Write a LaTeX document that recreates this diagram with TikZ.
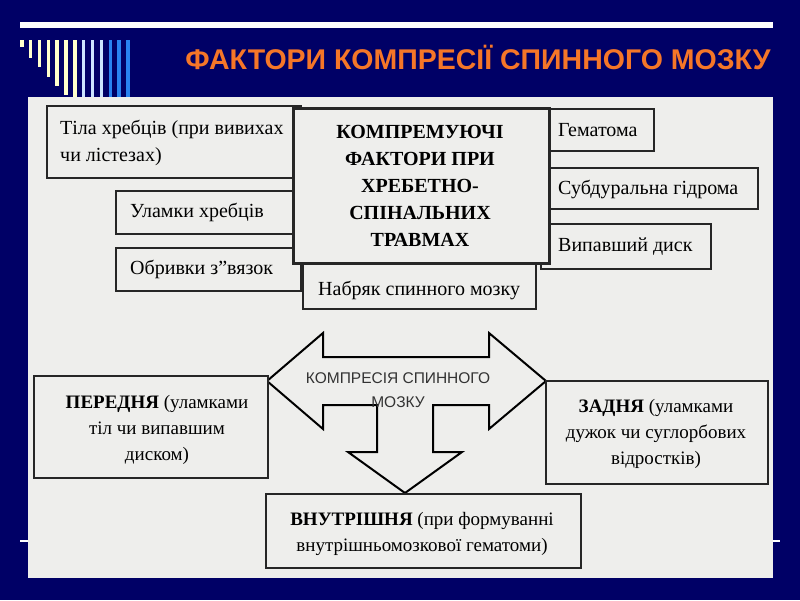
\documentclass[tikz,border=0pt]{standalone}
\usepackage{fontspec}
\setmainfont{Liberation Serif}
\setsansfont{Liberation Sans}
\definecolor{slidebg}{RGB}{0,0,102}
\definecolor{paper}{RGB}{238,238,236}
\definecolor{titleorange}{RGB}{245,118,40}
\definecolor{barcream}{RGB}{255,255,204}
\definecolor{barlight}{RGB}{204,228,255}
\definecolor{barblue}{RGB}{40,130,240}
\tikzset{
  box/.style={draw=black!85, fill=paper, line width=1.5pt, anchor=north west, inner sep=0pt},
  mainbox/.style={box, line width=2.8pt},
  boxtext/.style={font=\fontsize{20}{27}\selectfont, anchor=west, align=left, inner sep=0pt},
  lowtext/.style={font=\fontsize{19}{26}\selectfont, align=center, inner sep=0pt},
}
\begin{document}
\begin{tikzpicture}[x=1pt,y=-1pt]
  \fill[slidebg] (0,0) rectangle (800,600);
  \useasboundingbox (0,0) rectangle (800,600);

  % slide decoration
  \fill[white] (20,22) rectangle (773,28);
  \foreach \i/\bot/\col in {0/47/barcream,1/58/barcream,2/67/barcream,3/77/barcream,
      4/86/barcream,5/95/barcream,6/100/barcream,7/100/barlight,8/100/barlight,
      9/100/barlight,10/100/barblue,11/100/barblue,12/100/barblue}
    \fill[\col] ({20+\i*8.85},40) rectangle ({23.5+\i*8.85},\bot);
  \draw[white, line width=1.2pt] (20,541) -- (780,541);
  \fill[paper] (28,97) rectangle (773,578);
  \node[font=\fontsize{28.5}{30}\selectfont\sffamily\bfseries, text=titleorange] (title) at (478,57) {ФАКТОРИ КОМПРЕСІЇ СПИННОГО МОЗКУ};

  % upper part
  \node[box, minimum width=254, minimum height=72] (tila) at (46,105) {};
  \node[boxtext] (tilat) at (60,143) {Тіла хребців (при вивихах\\чи лістезах)};
  \node[box, minimum width=185, minimum height=43] (ulamky) at (115,190) {};
  \node[boxtext] (ulamkyt) at (130,212) {Уламки хребців};
  \node[box, minimum width=185, minimum height=43] (obryvky) at (115,247) {};
  \node[boxtext] (obryvkyt) at (130,269) {Обривки з”вязок};

  \node[box, minimum width=113, minimum height=42] (hematoma) at (540,108) {};
  \node[boxtext] (hematomat) at (558,130) {Гематома};
  \node[box, minimum width=217, minimum height=41] (hidroma) at (540,167) {};
  \node[boxtext] (hidromat) at (558,189) {Субдуральна гідрома};
  \node[box, minimum width=170, minimum height=45] (dysk) at (540,223) {};
  \node[boxtext] (dyskt) at (558,247) {Випавший диск};

  \node[box, minimum width=233, minimum height=58] (nabriak) at (302,250) {};
  \node[boxtext] (nabriakt) at (318,290) {Набряк спинного мозку};

  \node[mainbox, minimum width=256, minimum height=155] (faktory) at (292,107) {};
  \node[font=\fontsize{20}{27}\selectfont\bfseries, align=center, inner sep=0pt] (faktoryt) at (420,186)
    {КОМПРЕМУЮЧІ\\ФАКТОРИ ПРИ\\ХРЕБЕТНО-\\СПІНАЛЬНИХ\\ТРАВМАХ};

  % compression arrow
  \draw[fill=paper, line width=2pt, line join=miter] (267,381) -- (323,333) -- (323,357) -- (489,357)
    -- (489,333) -- (546,381) -- (489,429) -- (489,405) -- (433,405) -- (433,452) -- (462,452)
    -- (405,493) -- (348,452) -- (377,452) -- (377,405) -- (323,405) -- (323,429) -- cycle;
  \node[font=\fontsize{15.5}{24}\selectfont\sffamily, text=black!80, align=center, inner sep=0pt] (kompresia) at (398,390)
    {КОМПРЕСІЯ СПИННОГО\\МОЗКУ};

  % lower part
  \node[box, line width=1.8pt, minimum width=234, minimum height=102] (perednia) at (33,375) {};
  \node[lowtext] (peredniat) at (157,430) {\textbf{ПЕРЕДНЯ} (уламками\\тіл чи випавшим\\диском)};
  \node[box, line width=1.8pt, minimum width=222, minimum height=103] (zadnia) at (545,380) {};
  \node[lowtext] (zadniat) at (656,434) {\textbf{ЗАДНЯ} (уламками\\дужок чи суглорбових\\відростків)};
  \node[box, line width=1.8pt, minimum width=315, minimum height=74] (vnutr) at (265,493) {};
  \node[lowtext] (vnutrt) at (422,534) {\textbf{ВНУТРІШНЯ} (при формуванні\\внутрішньомозкової гематоми)};
\end{tikzpicture}
\end{document}
